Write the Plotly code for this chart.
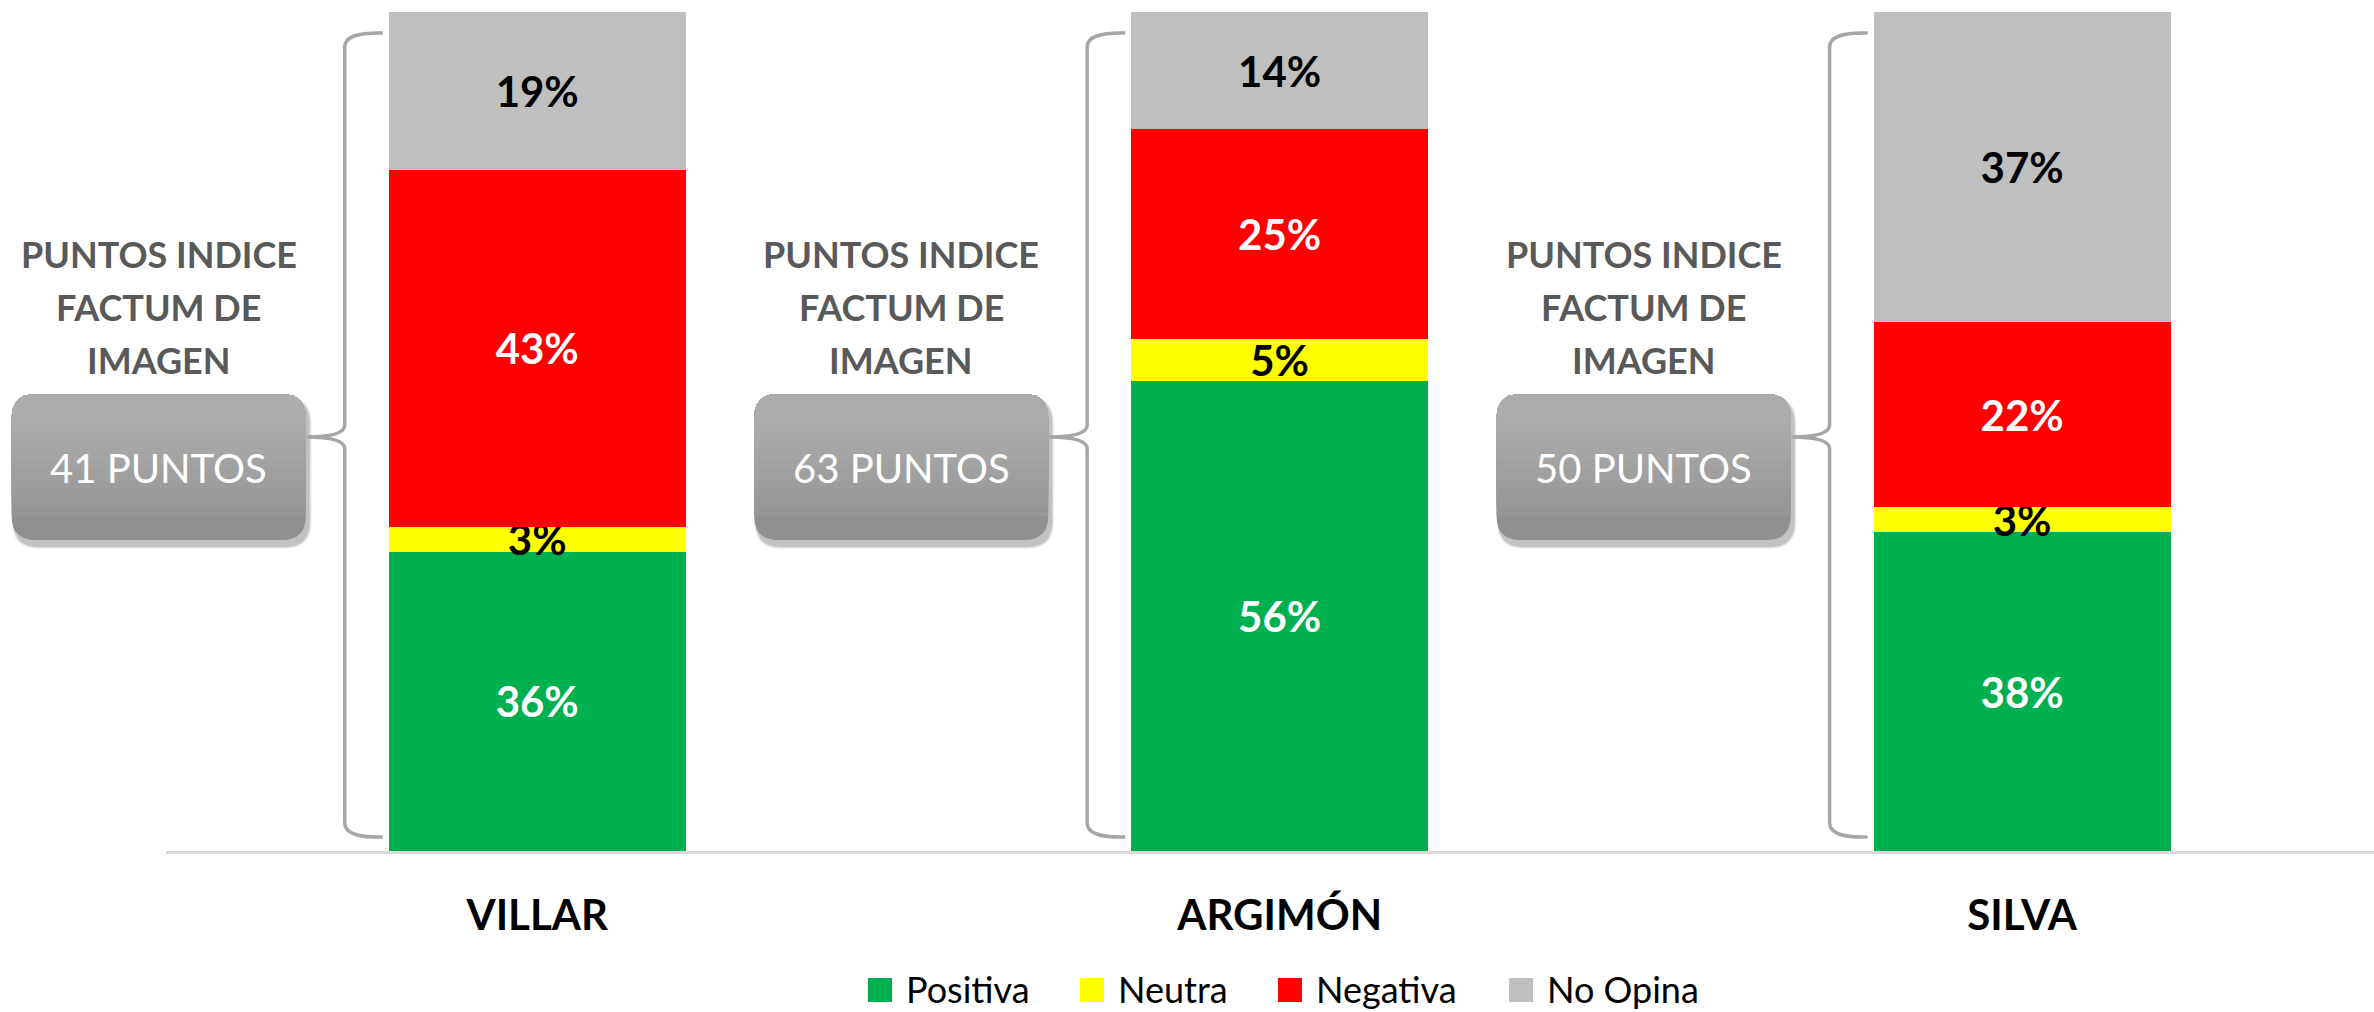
import plotly.graph_objects as go

# ---------------- data ----------------
candidatos = ["VILLAR", "ARGIMÓN", "SILVA"]
positiva = [36, 56, 38]
neutra = [3, 5, 3]
negativa = [43, 25, 22]
no_opina = [19, 14, 37]
puntos = [41, 63, 50]

series_names = ["Positiva", "Neutra", "Negativa", "No Opina"]
series_colors = ["#00B050", "#FFFF00", "#FF0000", "#BFBFBF"]
label_colors = ["white", "black", "white", "black"]

# ---------------- layout geometry ----------------
W, H = 2374, 1012
ML, MR, MT, MB = 166, 0, 12, 161
PW, PH = W - ML - MR, H - MT - MB
XMIN, XMAX = -0.5, 2.474
UNIT = PW / (XMAX - XMIN)
BAR_W = 0.4
FONT = "Lato"


def px2x(px):
    return (px - ML) / PW


def py2y(py):
    return (H - MB - py) / PH


fig = go.Figure()
for name, vals, col, lcol in zip(series_names, [positiva, neutra, negativa, no_opina],
                                 series_colors, label_colors):
    fig.add_trace(go.Bar(
        x=candidatos, y=vals, name=name, width=BAR_W,
        marker=dict(color=col, line=dict(width=0)),
        text=[f"{v}%" for v in vals],
        textposition="inside", insidetextanchor="middle",
        constraintext="none", textangle=0,
        insidetextfont=dict(family=FONT, size=42, color=lcol, weight="bold"),
        hoverinfo="skip", showlegend=False,
    ))

shapes = []
annotations = []


def rounded_path(x0, y0, x1, y1, r, round_bottom=True):
    # pixel coords -> paper path with rounded corners (y0 top, y1 bottom)
    X = px2x
    Y = py2y
    p = f"M{X(x0 + r)},{Y(y0)} L{X(x1 - r)},{Y(y0)} Q{X(x1)},{Y(y0)} {X(x1)},{Y(y0 + r)} "
    if round_bottom:
        p += (f"L{X(x1)},{Y(y1 - r)} Q{X(x1)},{Y(y1)} {X(x1 - r)},{Y(y1)} "
              f"L{X(x0 + r)},{Y(y1)} Q{X(x0)},{Y(y1)} {X(x0)},{Y(y1 - r)} ")
    else:
        p += f"L{X(x1)},{Y(y1)} L{X(x0)},{Y(y1)} "
    p += f"L{X(x0)},{Y(y0 + r)} Q{X(x0)},{Y(y0)} {X(x0 + r)},{Y(y0)} Z"
    return p


BOX_TOP, BOX_BOT, RAD = 394, 540, 24
BR_TOP, BR_BOT, BR_TIP = 33, 837, 437

for i, cand in enumerate(candidatos):
    center = ML + (i - XMIN) * UNIT
    bar_left = center - BAR_W / 2 * UNIT
    brace_x = bar_left - 44
    tip_x = bar_left - 82
    box_r = bar_left - 83
    box_l = box_r - 294
    box_c = (box_l + box_r) / 2

    # brace
    X, Y = px2x, py2y
    path = (f"M{X(bar_left - 6)},{Y(BR_TOP)} Q{X(brace_x)},{Y(BR_TOP - 1)} {X(brace_x)},{Y(BR_TOP + 14)} "
            f"L{X(brace_x)},{Y(BR_TIP - 12)} Q{X(brace_x)},{Y(BR_TIP)} {X(tip_x)},{Y(BR_TIP)} "
            f"Q{X(brace_x)},{Y(BR_TIP)} {X(brace_x)},{Y(BR_TIP + 12)} "
            f"L{X(brace_x)},{Y(BR_BOT - 14)} Q{X(brace_x)},{Y(BR_BOT + 1)} {X(bar_left - 6)},{Y(BR_BOT)}")
    shapes.append(dict(type="path", xref="paper", yref="paper", path=path,
                       line=dict(color="#A6A6A6", width=3.5), layer="above"))

    # shadow
    for k, op in enumerate([0.06, 0.08, 0.12]):
        g = 3 - k
        shapes.append(dict(type="path", xref="paper", yref="paper",
                           path=rounded_path(box_l + 3 - g, BOX_TOP + 5 - g, box_r + 3 + g, BOX_BOT + 6 + g, RAD + g),
                           fillcolor=f"rgba(0,0,0,{op})", line=dict(width=0), layer="below"))
    # gradient box
    shapes.append(dict(type="path", xref="paper", yref="paper",
                       path=rounded_path(box_l, BOX_TOP, box_r, BOX_BOT, RAD),
                       fillcolor="#909090", line=dict(width=0), layer="below"))
    n = 14
    lo = BOX_BOT - RAD
    for k in range(n):
        yb = lo - (lo - BOX_TOP - RAD) * k / n
        t = (yb - BOX_TOP) / (BOX_BOT - BOX_TOP)
        c = int(round(0xB4 + (0x90 - 0xB4) * t))
        shapes.append(dict(type="path", xref="paper", yref="paper",
                           path=rounded_path(box_l, BOX_TOP, box_r, yb, RAD, round_bottom=False),
                           fillcolor=f"rgb({c},{c},{c})", line=dict(width=0), layer="below"))

    annotations.append(dict(x=px2x(box_c), y=py2y(468), xref="paper", yref="paper",
                            text=f"{puntos[i]} PUNTOS", showarrow=False,
                            font=dict(family=FONT, size=40, color="white"),
                            xanchor="center", yanchor="middle"))
    for txt, yy in zip(["PUNTOS INDICE", "FACTUM DE", "IMAGEN"], [254, 307, 360]):
        annotations.append(dict(x=px2x(box_c), y=py2y(yy), xref="paper", yref="paper",
                                text=txt, showarrow=False,
                                font=dict(family=FONT, size=36, color="#595959", weight="bold"),
                                xanchor="center", yanchor="middle"))

# legend (drawn as key squares + labels below the axis)
LEG_SQ_X = [868, 1080, 1278, 1509]
LEG_Y, LEG_SQ = 990, 24
for name, col, sx in zip(series_names, series_colors, LEG_SQ_X):
    shapes.append(dict(type="rect", xref="paper", yref="paper",
                       x0=px2x(sx), x1=px2x(sx + LEG_SQ),
                       y0=py2y(LEG_Y - LEG_SQ / 2), y1=py2y(LEG_Y + LEG_SQ / 2),
                       fillcolor=col, line=dict(width=0)))
    annotations.append(dict(x=px2x(sx + 36), y=py2y(LEG_Y - 1), xref="paper", yref="paper",
                            text=name, showarrow=False, xanchor="left", yanchor="middle",
                            font=dict(family=FONT, size=36, color="black")))

fig.update_layout(
    width=W, height=H,
    margin=dict(l=ML, r=MR, t=MT, b=MB, autoexpand=False),
    barmode="stack", barnorm="percent",
    plot_bgcolor="white", paper_bgcolor="white",
    shapes=shapes, annotations=annotations,
    showlegend=False,
    xaxis=dict(range=[XMIN, XMAX], showline=True, linecolor="#D9D9D9", linewidth=3,
               showgrid=False, zeroline=False, ticks="", ticklabelstandoff=26,
               tickfont=dict(family=FONT, size=42, color="black", weight="bold")),
    yaxis=dict(range=[0, 100], visible=False, showgrid=False, zeroline=False),
)

fig.write_html("out.html", config={"displayModeBar": False},
               post_script="document.body.style.margin='0';")
